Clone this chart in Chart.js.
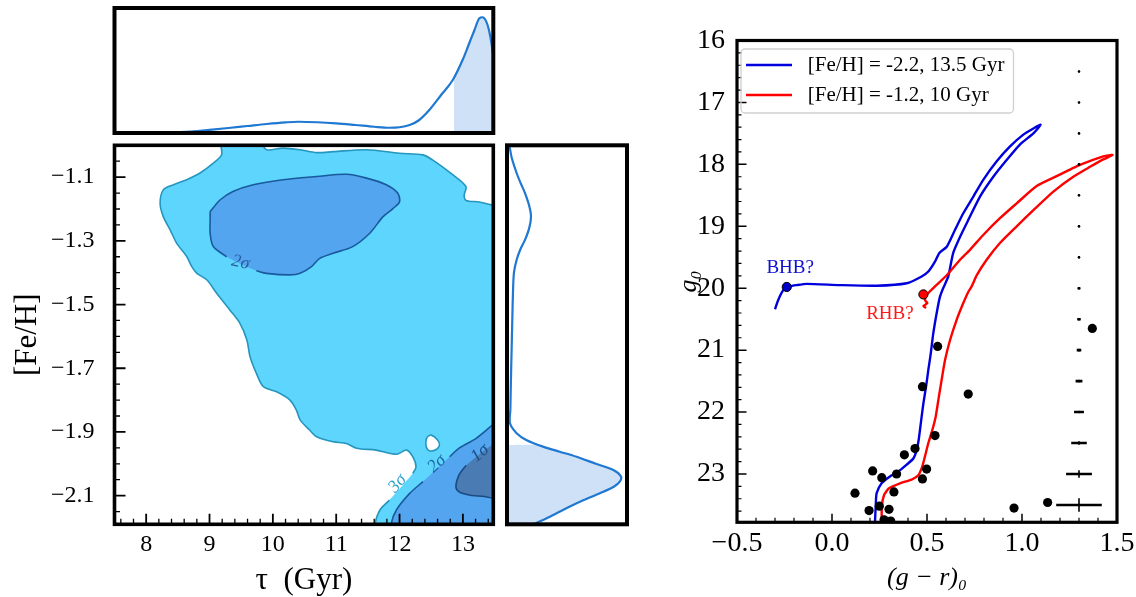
<!DOCTYPE html>
<html><head><meta charset="utf-8">
<script src="https://cdn.jsdelivr.net/npm/chart.js@4.4.1/dist/chart.umd.min.js"></script>
<style>
html,body{margin:0;padding:0;background:#fff;}
#wrap{position:relative;width:1136px;height:597px;overflow:hidden;background:#fff;}
canvas{position:absolute;left:0;top:0;}
</style></head><body><div id="wrap">
<canvas id="cTop" width="1136" height="597"></canvas>
<canvas id="cMain" width="1136" height="597"></canvas>
<canvas id="cRight" width="1136" height="597"></canvas>
<canvas id="cCmd" width="1136" height="597"></canvas>
</div>
<script>
// ================= DATA =================
// Age marginal (top panel): tau [Gyr] vs. density
const ageGrid = [7.5, 8.0, 8.4, 8.7, 9.0, 9.3, 9.6, 9.9, 10.2, 10.4, 10.7, 11.0, 11.3, 11.6, 11.84, 12.0, 12.16, 12.3, 12.47, 12.65, 12.84, 13.0, 13.1, 13.18, 13.26, 13.31, 13.35, 13.39, 13.43, 13.48];
const ageDens = [0, 0.001, 0.004, 0.012, 0.025, 0.04, 0.056, 0.072, 0.085, 0.09, 0.086, 0.077, 0.064, 0.05, 0.042, 0.046, 0.064, 0.10, 0.184, 0.30, 0.424, 0.59, 0.718, 0.82, 0.918, 0.926, 0.91, 0.864, 0.78, 0.62];
const ageShadeFrom = 12.86;

// Metallicity marginal (right panel): [Fe/H] vs. density
const fehGrid = [-1.0, -1.04, -1.087, -1.12, -1.15, -1.19, -1.224, -1.26, -1.297, -1.328, -1.36, -1.40, -1.46, -1.55, -1.65, -1.75, -1.83, -1.873, -1.904, -1.925, -1.946, -1.962, -1.978, -2.0, -2.02, -2.04, -2.056, -2.072, -2.093, -2.114, -2.135, -2.156, -2.175, -2.19];
const fehDens = [0.02, 0.04, 0.08, 0.115, 0.15, 0.185, 0.20, 0.185, 0.15, 0.11, 0.08, 0.058, 0.05, 0.044, 0.038, 0.032, 0.028, 0.025, 0.08, 0.16, 0.30, 0.44, 0.58, 0.74, 0.89, 0.95, 0.94, 0.89, 0.77, 0.64, 0.52, 0.41, 0.31, 0.22];
const fehShadeFrom = -1.941;

// Contours [age, [Fe/H]]; null = break of the drawn contour line (label gap)
const sigma3 = [[9.17,-0.99],[9.19,-1.03],[9.06,-1.056],[8.85,-1.087],[8.64,-1.108],[8.43,-1.124],[8.27,-1.14],[8.22,-1.182],[8.27,-1.224],[8.38,-1.266],[8.48,-1.307],[8.64,-1.349],[8.72,-1.381],[8.80,-1.402],[8.96,-1.423],[9.11,-1.464],[9.32,-1.517],[9.48,-1.559],[9.59,-1.611],[9.64,-1.664],[9.74,-1.716],[9.85,-1.758],[10.06,-1.774],[10.27,-1.80],[10.37,-1.831],[10.43,-1.862],[10.58,-1.894],[10.69,-1.915],[10.95,-1.931],[11.16,-1.936],[11.32,-1.951],[11.63,-1.957],[11.95,-1.97],[12.11,-1.957],[12.21,-1.978],[12.26,-2.009],[12.21,-2.03],null,[11.84,-2.114],[11.69,-2.145],[11.61,-2.19],[11.58,-2.25],[13.6,-2.25],[13.6,-1.187],[13.45,-1.187],[13.26,-1.178],[13.05,-1.173],[13.02,-1.157],[13.05,-1.131],[12.94,-1.108],[12.74,-1.077],[12.52,-1.046],[12.37,-1.03],[12.0,-1.025],[11.48,-1.014],[10.95,-1.02],[10.69,-1.023],[10.43,-1.014],[10.16,-1.009],[9.90,-1.014],[9.79,-0.99]];
const sigma3Hole = [[12.44,-1.915],[12.50,-1.91],[12.60,-1.925],[12.63,-1.941],[12.58,-1.955],[12.47,-1.959],[12.42,-1.946],[12.42,-1.925]];
const sigma2Upper = [[9.01,-1.208],[9.17,-1.171],[9.37,-1.145],[9.69,-1.124],[10.16,-1.108],[10.69,-1.098],[11.16,-1.091],[11.48,-1.103],[11.79,-1.124],[11.97,-1.15],[12.0,-1.177],[11.90,-1.198],[11.74,-1.224],[11.53,-1.276],[11.26,-1.318],[10.95,-1.339],[10.74,-1.355],[10.61,-1.381],[10.43,-1.402],[10.27,-1.407],[9.90,-1.402],[9.74,-1.394],null,[9.27,-1.35],[9.06,-1.318],[9.01,-1.276],[9.01,-1.234]];
const sigma2Lower = [[11.85,-2.25],[11.87,-2.187],[11.95,-2.145],[12.16,-2.093],[12.37,-2.056],null,[12.79,-1.978],[12.94,-1.951],[13.21,-1.92],[13.47,-1.878],[13.6,-1.86],[13.6,-2.25]];
const sigma1 = [[13.6,-1.925],[13.5,-1.935],null,[13.05,-2.005],[12.94,-2.035],[12.89,-2.072],[12.94,-2.088],[13.10,-2.098],[13.3,-2.102],[13.6,-2.103]];
const sigmaLabels = [
  {text:'3σ', x:11.97, y:-2.062, rot:-49, color:'#2aa3cc'},
  {text:'2σ', x:12.59, y:-2.0, rot:-43, color:'#1f66a8'},
  {text:'1σ', x:13.27, y:-1.967, rot:-40, color:'#1d4f86'},
  {text:'2σ', x:9.49, y:-1.368, rot:12, color:'#2a5f9c'}
];

// Axis tick labels
const ageTicks = [8, 9, 10, 11, 12, 13];
const fehTicks = [-2.1, -1.9, -1.7, -1.5, -1.3, -1.1];
const colorTicks = [-0.5, 0.0, 0.5, 1.0, 1.5];
const magTicks = [16, 17, 18, 19, 20, 21, 22, 23];

// CMD: isochrones (g-r)_0, g_0
const isoBlueColor = [0.226,0.231,0.235,0.261,0.305,0.349,0.393,0.428,0.446,0.456,0.463,0.472,0.481,0.495,0.507,0.52,0.533,0.551,0.568,0.585,0.612,0.638,0.674,0.717,0.779,0.849,0.919,0.989,1.06,1.098,1.06,1.007,0.937,0.867,0.796,0.744,0.691,0.647,0.604,0.565,0.542,0.507,0.472,0.393,0.235,0.042,-0.133,-0.186,-0.221,-0.256,-0.283,-0.30];
const isoBlueMag = [23.80,23.45,23.31,23.15,23.04,22.96,22.85,22.75,22.61,22.45,22.29,22.07,21.86,21.59,21.32,21.05,20.73,20.40,20.14,20.0,19.81,19.43,19.17,18.90,18.52,18.20,17.93,17.68,17.50,17.36,17.42,17.52,17.71,17.95,18.25,18.52,18.79,19.06,19.33,19.43,19.57,19.73,19.81,19.92,19.96,19.95,19.93,19.95,19.97,20.03,20.19,20.34];
const isoRedColor = [0.262,0.262,0.274,0.30,0.358,0.419,0.454,0.475,0.489,0.507,0.528,0.546,0.56,0.577,0.595,0.621,0.656,0.691,0.717,0.735,0.762,0.814,0.884,0.972,1.06,1.165,1.27,1.358,1.428,1.477,1.428,1.305,1.182,1.077,0.972,0.884,0.796,0.726,0.674,0.604,0.542,0.50,0.489,0.502,0.481,0.495];
const isoRedMag = [23.80,23.53,23.34,23.23,23.15,23.09,23.02,22.88,22.72,22.50,22.29,22.07,21.80,21.48,21.16,20.84,20.51,20.24,20.06,19.97,19.79,19.54,19.27,19.0,18.74,18.44,18.20,18.04,17.92,17.85,17.87,18.01,18.19,18.35,18.63,18.87,19.14,19.38,19.54,19.79,19.97,20.10,20.19,20.24,20.29,20.32];
// member stars
const starColor = [1.37,0.556,0.476,0.717,0.542,0.437,0.381,0.214,0.498,0.262,0.34,0.476,0.121,0.326,0.195,0.30,0.249,0.958,1.135,0.274,0.309];
const starMag = [20.65,20.94,21.59,21.71,22.38,22.59,22.69,22.95,22.92,23.06,23.0,23.08,23.31,23.29,23.59,23.57,23.52,23.55,23.46,23.74,23.76];
const bhbStar = [-0.238, 19.98];
const rhbStar = [0.481, 20.10];
// photometric errors
const errColumn = 1.3;
const errMag = [16.5,17.0,17.5,18.0,18.5,19.0,19.5,20.0,20.5,21.0,21.5,22.0,22.5,23.0,23.5];
const errColorSig = [0.002,0.002,0.002,0.003,0.003,0.004,0.005,0.007,0.009,0.012,0.018,0.026,0.041,0.068,0.12];
const errMagSig = [0.001,0.001,0.002,0.002,0.002,0.003,0.004,0.005,0.006,0.008,0.011,0.016,0.027,0.062,0.108];
const legendLabels = ['[Fe/H] = -2.2, 13.5 Gyr', '[Fe/H] = -1.2, 10 Gyr'];
const hbLabels = [{text:'BHB?', x:-0.22, y:19.67, color:'#1010d0'}, {text:'RHB?', x:0.305, y:20.42, color:'#ff1a1a'}];

// ================= STYLE / HELPERS =================
const W = 1136, H = 597;
const SERIF = '"Liberation Serif","DejaVu Serif",serif';
const KDE_LINE = '#1f78d1', KDE_FILL = '#cfe1f6';
const C3_FILL = '#5dd5fc', C3_LINE = '#2596be';
const C2_FILL = '#53a5f0', C2_LINE = '#1a5a9c';
const C1_FILL = '#4a7cb3', C1_LINE = '#1a4a80';
const BLUE = '#0000dd', RED = '#ff0000';

const toPts = arr => arr.filter(p => p).map(p => ({x: p[0], y: p[1]}));
const toLine = arr => { const o = arr.map(p => p ? {x: p[0], y: p[1]} : {x: null, y: null}); o.push({x: arr[0][0], y: arr[0][1]}); return o; };
const zip = (xs, ys) => xs.map((x, i) => ({x, y: ys[i]}));
const minusSign = s => s.replace('-', '\u2212');
function seq(a, b, step, skip) { const out = []; for (let v = a; v <= b + 1e-9; v += step) { const r = Math.round(v * 1000) / 1000; if (!skip.some(s => Math.abs(s - r) < 1e-6)) out.push(r); } return out; }
function pad(area, wy, hx) { return {left: area.l - wy, top: area.t, right: W - area.r, bottom: H - area.b - hx}; }

const framePlugin = { id: 'frame', afterDraw(chart, args, o) {
  const a = chart.chartArea, ctx = chart.ctx; ctx.save(); ctx.lineWidth = o.width; ctx.strokeStyle = '#000';
  ctx.strokeRect(a.left, a.top, a.right - a.left, a.bottom - a.top); ctx.restore(); } };
const inTicksPlugin = { id: 'inTicks', afterDatasetsDraw(chart, args, o) {
  const ctx = chart.ctx, a = chart.chartArea; ctx.save(); ctx.strokeStyle = '#000';
  for (const ax of (o.axes || [])) {
    const sc = chart.scales[ax.id];
    const draw = (vals, len, lw) => { ctx.lineWidth = lw; ctx.beginPath();
      for (const v of vals) { const p = sc.getPixelForValue(v);
        if (ax.id === 'x') { ctx.moveTo(p, a.bottom); ctx.lineTo(p, a.bottom - len); }
        else { ctx.moveTo(a.left, p); ctx.lineTo(a.left + len, p); } }
      ctx.stroke(); };
    draw(ax.minor, ax.minorLen, ax.minorWidth); draw(ax.major, ax.majorLen, ax.majorWidth);
  }
  ctx.restore(); } };
const notesPlugin = { id: 'notes', afterDatasetsDraw(chart, args, o) {
  const ctx = chart.ctx;
  for (const n of (o.items || [])) {
    const x = chart.scales.x.getPixelForValue(n.x), y = chart.scales.y.getPixelForValue(n.y);
    ctx.save(); ctx.translate(x, y); ctx.rotate((n.rot || 0) * Math.PI / 180);
    ctx.font = o.font; ctx.fillStyle = n.color; ctx.textAlign = 'center'; ctx.textBaseline = 'middle';
    ctx.fillText(n.text, 0, 0); ctx.restore();
  } } };
const legendFramePlugin = { id: 'legendFrame', afterDraw(chart, args, o) {
  const lg = chart.legend; if (!lg || !lg.legendHitBoxes || !lg.legendHitBoxes.length) return;
  const hb = lg.legendHitBoxes; const ctx = chart.ctx;
  const l = Math.min(...hb.map(h => h.left)) - o.left;
  const r = Math.max(...hb.map(h => h.left + h.width)) + o.right;
  const t = Math.min(...hb.map(h => h.top)) + hb[0].height / 2 - o.top;
  const b = Math.max(...hb.map(h => h.top)) + hb[0].height / 2 + o.bottom;
  ctx.save(); ctx.strokeStyle = '#cfcfcf'; ctx.lineWidth = 1.3; ctx.beginPath();
  ctx.roundRect(l, t, r - l, b - t, 4); ctx.stroke(); ctx.restore(); } };

const common = { responsive: false, animation: false, devicePixelRatio: 1, events: [] };
const noAxis = (min, max, extra) => Object.assign({type: 'linear', display: false, min, max}, extra || {});
const lineDs = (data, color, width, order, extra) => Object.assign({data, showLine: true, fill: false, borderColor: color, borderWidth: width, pointRadius: 0, pointHoverRadius: 0, order, clip: 0}, extra || {});
const fillDs = (data, color, order, extra) => Object.assign({data, showLine: true, fill: 'shape', backgroundColor: color, borderColor: 'rgba(0,0,0,0)', borderWidth: 1, pointRadius: 0, pointHoverRadius: 0, order, clip: 0}, extra || {});

// ================= TOP MARGINAL (age) =================
const AGE_MIN = 7.5, AGE_MAX = 13.48, FEH_MIN = -2.19, FEH_MAX = -1.0;
const topArea = {l: 114.5, t: 8, r: 493.3, b: 133};
const agePts = zip(ageGrid, ageDens);
const ageShade = [{x: ageShadeFrom, y: 0.43}].concat(agePts.filter(p => p.x > ageShadeFrom));
new Chart(document.getElementById('cTop'), {
  type: 'scatter',
  data: {datasets: [
    lineDs(agePts, KDE_LINE, 2.2, 1, {cubicInterpolationMode: 'monotone'}),
    {data: ageShade, showLine: true, fill: 'origin', backgroundColor: KDE_FILL, borderColor: 'rgba(0,0,0,0)', borderWidth: 1, pointRadius: 0, order: 5, clip: 0, cubicInterpolationMode: 'monotone'}
  ]},
  options: Object.assign({}, common, {
    layout: {padding: pad(topArea, 0, 0)},
    plugins: {legend: {display: false}, tooltip: {enabled: false}, frame: {width: 4}},
    scales: {x: noAxis(AGE_MIN, AGE_MAX), y: noAxis(0, 1)}
  }),
  plugins: [framePlugin]
});

// ================= MAIN CONTOUR PANEL =================
const mainArea = {l: 114.5, t: 145.3, r: 493.3, b: 524.3};
new Chart(document.getElementById('cMain'), {
  type: 'scatter',
  data: {datasets: [
    fillDs(toPts(sigma3), C3_FILL, 20, {tension: 0.3}),
    lineDs(toLine(sigma3), C3_LINE, 1.6, 19, {tension: 0.3}),
    fillDs(toPts(sigma3Hole), '#ffffff', 18, {tension: 0.4}),
    lineDs(toLine(sigma3Hole), C3_LINE, 1.6, 17, {tension: 0.4}),
    fillDs(toPts(sigma2Upper), C2_FILL, 16, {tension: 0.3}),
    lineDs(toLine(sigma2Upper), C2_LINE, 1.6, 15, {tension: 0.3}),
    fillDs(toPts(sigma2Lower), C2_FILL, 14, {tension: 0.3}),
    lineDs(toLine(sigma2Lower), C2_LINE, 1.6, 13, {tension: 0.3}),
    fillDs(toPts(sigma1), C1_FILL, 12, {tension: 0.3}),
    lineDs(toLine(sigma1), C1_LINE, 1.6, 11, {tension: 0.3})
  ]},
  options: Object.assign({}, common, {
    layout: {padding: pad(mainArea, 102.5, 71.7)},
    plugins: {
      legend: {display: false}, tooltip: {enabled: false}, frame: {width: 3.6},
      notes: {font: 'italic 18px ' + SERIF, items: sigmaLabels},
      inTicks: {axes: [
        {id: 'x', major: ageTicks, minor: seq(7.6, 13.4, 0.2, ageTicks), majorLen: 10.5, minorLen: 5.5, majorWidth: 1.8, minorWidth: 1.3},
        {id: 'y', major: fehTicks, minor: seq(-2.15, -1.05, 0.05, fehTicks), majorLen: 11, minorLen: 5.5, majorWidth: 1.8, minorWidth: 1.3}
      ]}
    },
    scales: {
      x: {type: 'linear', position: 'bottom', min: AGE_MIN, max: AGE_MAX,
          grid: {display: false}, border: {display: false},
          afterBuildTicks: s => { s.ticks = ageTicks.map(v => ({value: v})); },
          afterFit: s => { s.height = 71.7; },
          ticks: {font: {family: SERIF, size: 24, lineHeight: 1.2}, color: '#000', padding: -2, autoSkip: false, maxRotation: 0, callback: v => minusSign(String(v))},
          title: {display: true, text: 'τ\u00a0\u00a0(Gyr)', color: '#000', font: {family: SERIF, size: 31, lineHeight: 1}, padding: 0}},
      y: {type: 'linear', position: 'left', min: FEH_MIN, max: FEH_MAX,
          grid: {display: false}, border: {display: false},
          afterBuildTicks: s => { s.ticks = fehTicks.map(v => ({value: v})); },
          afterFit: s => { s.width = 102.5; },
          ticks: {font: {family: SERIF, size: 24, lineHeight: 1.2}, color: '#000', padding: 12, autoSkip: false, callback: v => minusSign((+v).toFixed(1))},
          title: {display: true, text: '[Fe/H]', color: '#000', font: {family: SERIF, size: 31, lineHeight: 1}, padding: 0}}
    }
  }),
  plugins: [framePlugin, inTicksPlugin, notesPlugin]
});

// ================= RIGHT MARGINAL (metallicity) =================
const rightArea = {l: 507, t: 145.3, r: 627, b: 524.3};
const fehPts = zip(fehDens, fehGrid);
const fehShade = [{x: 0, y: fehShadeFrom}, {x: 0.27, y: fehShadeFrom}].concat(fehPts.filter(p => p.y < fehShadeFrom)).concat([{x: 0, y: FEH_MIN - 0.05}]);
new Chart(document.getElementById('cRight'), {
  type: 'scatter',
  data: {datasets: [
    lineDs(fehPts, KDE_LINE, 2.2, 1, {tension: 0.3}),
    fillDs(fehShade, KDE_FILL, 5, {tension: 0.3})
  ]},
  options: Object.assign({}, common, {
    layout: {padding: pad(rightArea, 0, 0)},
    plugins: {legend: {display: false}, tooltip: {enabled: false}, frame: {width: 4}},
    scales: {x: noAxis(0, 1), y: noAxis(FEH_MIN, FEH_MAX)}
  }),
  plugins: [framePlugin]
});

// ================= CMD PANEL =================
const cmdArea = {l: 737, t: 40.5, r: 1117, b: 522.3};
const errX = [], errY = [];
errMag.forEach((m, i) => {
  errX.push({x: errColumn - errColorSig[i], y: m}, {x: errColumn + errColorSig[i], y: m}, {x: null, y: null});
  errY.push({x: errColumn, y: m - errMagSig[i]}, {x: errColumn, y: m + errMagSig[i]}, {x: null, y: null});
});
new Chart(document.getElementById('cCmd'), {
  type: 'scatter',
  data: {datasets: [
    lineDs(zip(isoBlueColor, isoBlueMag), BLUE, 2.4, 10, {label: legendLabels[0], tension: 0.2}),
    lineDs(zip(isoRedColor, isoRedMag), RED, 2.4, 9, {label: legendLabels[1], tension: 0.2}),
    lineDs(errX, '#000', 2.6, 6, {borderCapStyle: 'butt'}),
    lineDs(errY, '#000', 1.6, 6),
    {data: errMag.map(m => ({x: errColumn, y: m})), pointRadius: 1.3, pointBackgroundColor: '#000', pointBorderWidth: 0, order: 5, clip: 0},
    {data: zip(starColor, starMag), pointRadius: 4.6, pointBackgroundColor: '#000', pointBorderWidth: 0, order: 2, clip: 0},
    {data: [{x: bhbStar[0], y: bhbStar[1]}], pointRadius: 4.6, pointBackgroundColor: '#0000cc', pointBorderColor: '#000', pointBorderWidth: 1, order: 1, clip: 0},
    {data: [{x: rhbStar[0], y: rhbStar[1]}], pointRadius: 4.6, pointBackgroundColor: '#ff0000', pointBorderColor: '#000', pointBorderWidth: 1, order: 1, clip: 0}
  ]},
  options: Object.assign({}, common, {
    layout: {padding: pad(cmdArea, 61, 68.7)},
    plugins: {
      tooltip: {enabled: false}, frame: {width: 3.2},
      legend: {display: true, position: 'chartArea', align: 'start',
        title: {display: true, text: ' ', font: {size: 1}, padding: {top: 44.3, bottom: 0}},
        labels: {boxWidth: 46, boxHeight: 2.5, padding: 9, color: '#000', font: {family: SERIF, size: 21},
          generateLabels: () => legendLabels.map((t, i) => ({text: '\u00a0' + t, fillStyle: [BLUE, RED][i], strokeStyle: [BLUE, RED][i], fontColor: '#000', lineWidth: 0, hidden: false, datasetIndex: i}))}},
      legendFrame: {left: 5, right: 9, top: 16, bottom: 18},
      notes: {font: '19px ' + SERIF, items: hbLabels},
      inTicks: {axes: [
        {id: 'x', major: colorTicks, minor: seq(-0.4, 1.4, 0.1, colorTicks), majorLen: 8.5, minorLen: 4.5, majorWidth: 1.5, minorWidth: 1.2},
        {id: 'y', major: magTicks, minor: seq(16.2, 23.6, 0.2, magTicks), majorLen: 9.5, minorLen: 4.5, majorWidth: 1.5, minorWidth: 1.2}
      ]}
    },
    scales: {
      x: {type: 'linear', position: 'bottom', min: -0.5, max: 1.5,
          grid: {display: false}, border: {display: false},
          afterBuildTicks: s => { s.ticks = colorTicks.map(v => ({value: v})); },
          afterFit: s => { s.height = 68.7; },
          ticks: {font: {family: SERIF, size: 28, lineHeight: 1.2}, color: '#000', padding: -3, autoSkip: false, maxRotation: 0, callback: v => minusSign((+v).toFixed(1))},
          title: {display: true, text: '(g − r)₀', color: '#000', font: {family: SERIF, size: 26, style: 'italic', lineHeight: 1}, padding: 0}},
      y: {type: 'linear', position: 'left', min: 16, max: 23.78, reverse: true,
          grid: {display: false}, border: {display: false},
          afterBuildTicks: s => { s.ticks = magTicks.map(v => ({value: v})); },
          afterFit: s => { s.width = 61; },
          ticks: {font: {family: SERIF, size: 28, lineHeight: 1.2}, color: '#000', padding: 4, autoSkip: false, callback: v => String(v)},
          title: {display: true, text: 'g₀', color: '#000', font: {family: SERIF, size: 26, style: 'italic', lineHeight: 1}, padding: 0}}
    }
  }),
  plugins: [framePlugin, inTicksPlugin, notesPlugin, legendFramePlugin]
});
</script></body></html>
